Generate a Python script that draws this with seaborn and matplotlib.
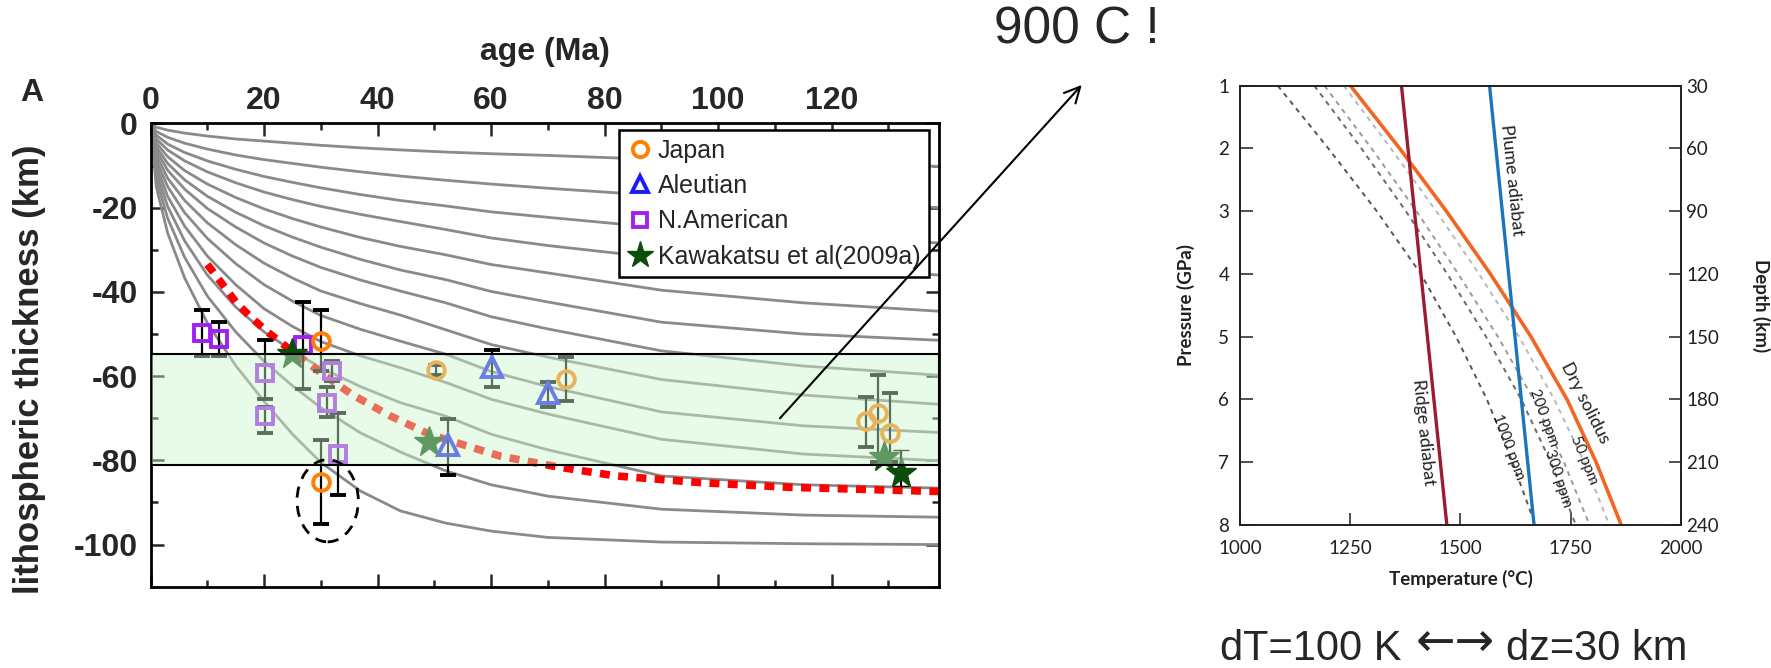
import numpy as np
import pandas as pd
import matplotlib
matplotlib.use("Agg")
import matplotlib.pyplot as plt
import seaborn as sns
from matplotlib.patches import Ellipse
from matplotlib.lines import Line2D

sns.set_theme(style="ticks")
plt.rcParams['font.family'] = ['Liberation Sans', 'DejaVu Sans']
plt.rcParams['axes.unicode_minus'] = False

# ---------------- panel A : lithospheric thickness vs age ----------------
curve_ages = [0, 1, 3, 6, 10, 15, 20, 25, 30, 37, 44, 52, 60, 70, 90, 115, 139]
curve_depths = [
    [0, -0.9, -1.6, -2.3, -3.0, -3.7, -4.2, -4.7, -5.2, -5.8, -6.3, -6.8, -7.2, -7.6, -8.6, -9.5, -10.2],
    [0, -1.9, -3.3, -4.7, -6.1, -7.5, -8.6, -9.5, -10.4, -11.5, -12.5, -13.5, -14.4, -15.4, -17.2, -18.8, -20.0],
    [0, -2.8, -4.9, -6.9, -8.9, -10.9, -12.6, -14.0, -15.3, -16.9, -18.3, -19.6, -21.0, -22.3, -24.8, -26.9, -28.4],
    [0, -3.7, -6.3, -8.9, -11.5, -14.1, -16.3, -18.1, -19.7, -21.6, -23.3, -25.2, -27.2, -29.0, -32.0, -34.4, -36.0],
    [0, -4.6, -7.9, -11.2, -14.4, -17.6, -20.3, -22.6, -24.6, -27.1, -29.2, -31.2, -33.5, -35.5, -39.6, -42.6, -44.6],
    [0, -5.5, -9.5, -13.4, -17.3, -21.1, -24.3, -27.0, -29.4, -32.3, -34.8, -37.1, -39.9, -42.4, -47.2, -50.0, -51.5],
    [0, -6.4, -11.1, -15.6, -20.2, -24.6, -28.4, -31.5, -34.2, -37.2, -39.8, -42.6, -45.9, -48.8, -54.0, -57.6, -59.8],
    [0, -7.5, -13.0, -18.3, -23.6, -28.8, -33.2, -36.7, -39.8, -42.8, -45.5, -49.0, -52.5, -55.5, -60.8, -64.5, -66.7],
    [0, -8.7, -15.0, -21.2, -27.3, -33.3, -38.3, -42.2, -45.6, -48.9, -51.7, -54.8, -58.9, -62.5, -68.5, -71.8, -73.4],
    [0, -10.0, -17.3, -24.4, -31.5, -38.3, -44.0, -48.2, -51.8, -55.2, -58.0, -61.5, -65.5, -69.0, -75.0, -78.5, -80.1],
    [0, -11.4, -19.7, -27.9, -36.0, -43.6, -49.5, -54.0, -58.0, -62.5, -66.3, -69.5, -73.8, -77.5, -83.7, -85.8, -86.6],
    [0, -13.0, -22.5, -31.8, -41.0, -49.5, -56.5, -62.3, -67.5, -73.5, -78.0, -82.5, -85.8, -88.5, -91.6, -93.0, -93.5],
    [0, -15.0, -26.0, -36.7, -47.4, -57.5, -66.0, -73.8, -80.5, -87.3, -92.0, -94.9, -96.8, -98.3, -99.4, -99.8, -100.0],
]

red_age = [10, 12.5, 15, 17.5, 20.5, 23.5, 29.3, 35.5, 42.3, 49.3, 61.6, 71.9, 82, 97, 112.6, 139]
red_depth = [-33.5, -37.9, -42.4, -45.8, -49.4, -52.6, -58.5, -64.4, -69.5, -73.9,
             -79.0, -81.6, -83.7, -85.3, -86.4, -87.4]

japan_age = [30.1, 30.1, 50.2, 73.2, 126.0, 128.1, 130.3]
japan_depth = [-51.7, -85.2, -58.6, -60.6, -70.6, -68.8, -73.5]
japan_top = [-44.4, -75.1, -57.4, -55.4, -65.0, -59.8, -63.9]
japan_bot = [-58.8, -95.1, -59.8, -66.0, -76.8, -80.5, -80.5]

aleut_age = [60.2, 70.1, 52.4]
aleut_depth = [-57.8, -64.1, -76.3]
aleut_top = [-53.9, -61.5, -70.1]
aleut_bot = [-62.5, -67.3, -83.4]

namer_age = [9.0, 12.1, 20.1, 20.1, 26.9, 31.9, 31.1, 33.1]
namer_depth = [-49.7, -51.1, -59.3, -69.4, -52.5, -58.9, -66.3, -78.4]
namer_top = [-44.4, -47.2, -51.4, -67.3, -42.5, -56.3, -62.7, -68.7]
namer_bot = [-55.2, -55.2, -65.5, -73.6, -63.0, -61.2, -69.7, -88.2]

kawa_age = [24.9, 49.0, 129.2, 132.2]
kawa_depth = [-54.8, -75.6, -79.3, -82.9]
kawa_top = [-54.8, -75.6, -79.3, -77.5]
kawa_bot = [-54.8, -75.6, -79.3, -86.0]

band_top, band_bot = -54.7, -81.1

# ---------------- panel B : solidus / adiabats ----------------
pressure = [1, 2, 3, 4, 5, 6, 7, 8]
dry_solidus = [1250, 1362, 1468, 1568, 1660, 1742, 1808, 1865]
ppm50 = [1235, 1342, 1445, 1542, 1633, 1713, 1781, 1838]
ppm200 = [1191, 1298, 1400, 1495, 1585, 1666, 1735, 1793]
ppm300 = [1168, 1275, 1376, 1470, 1558, 1638, 1705, 1762]
ppm1000 = [1085, 1200, 1310, 1410, 1490, 1560, 1618, 1670]
adiabat_p = [1, 8]
ridge_t = [1366, 1469]
plume_t = [1566, 1667]

fig = plt.figure(figsize=(17.71, 6.68), dpi=100)

# ================= left panel =================
ax = fig.add_axes([0.08503, 0.12171, 0.44546, 0.69356])

rows = [(i, a, d) for i, c in enumerate(curve_depths) for a, d in zip(curve_ages, c)]
df = pd.DataFrame(rows, columns=["curve", "age", "depth"])
sns.lineplot(data=df, x="age", y="depth", units="curve", estimator=None,
             color="#8a8a8a", lw=2.0, ax=ax, zorder=1)

sns.lineplot(x=red_age, y=red_depth, color="#ff0000", lw=5.5,
             linestyle=(0, (1.3, 1.1)), ax=ax, zorder=2)


def err(depth, top, bot):
    d = np.array(depth)
    return [d - np.array(bot), np.array(top) - d]


ebkw = dict(ecolor="black", elinewidth=1.6, capsize=5.5, capthick=1.8, ls="none")
ax.errorbar(namer_age, namer_depth, yerr=err(namer_depth, namer_top, namer_bot),
            marker="s", ms=11.5, mfc="none", mec="#a020f0", mew=2.8, zorder=3, **ebkw)
ax.errorbar(japan_age, japan_depth, yerr=err(japan_depth, japan_top, japan_bot),
            marker="o", ms=12, mfc="none", mec="#ff8000", mew=2.8, zorder=3, **ebkw)
ax.errorbar(aleut_age, aleut_depth, yerr=err(aleut_depth, aleut_top, aleut_bot),
            marker="^", ms=14, mfc="none", mec="#1a1aff", mew=2.8, zorder=3, **ebkw)
ax.errorbar(kawa_age, kawa_depth, yerr=err(kawa_depth, kawa_top, kawa_bot),
            marker="*", ms=23, mfc="#0b4d0b", mec="#0b4d0b", mew=1, zorder=3, **ebkw)

# translucent green band drawn on top
ax.axhspan(band_bot, band_top, facecolor=(0.80, 0.96, 0.80, 0.45),
           edgecolor="black", lw=1.5, zorder=5)

ax.add_patch(Ellipse((31.2, -89.6), 10.8, 19.5, fill=False, ec="black", lw=2,
                     ls=(0, (4, 3)), zorder=6))

ax.set_xlim(0, 139)
ax.set_ylim(-110, 0)
ax.set_xticks(range(0, 121, 20))
ax.set_xticks(range(0, 140, 10), minor=True)
ax.set_yticks(range(-100, 1, 20))
ax.set_yticks(range(-110, 1, 10), minor=True)
ax.tick_params(axis="both", which="both", direction="in", width=1.8,
               top=True, bottom=True, left=True, right=True,
               labeltop=True, labelbottom=False, labelsize=23)
ax.tick_params(which="major", length=9.5)
ax.tick_params(which="minor", length=5)
ax.tick_params(axis="x", pad=5)
ax.tick_params(axis="y", pad=9)
for lab in ax.get_xticklabels() + ax.get_yticklabels():
    lab.set_fontweight("bold")
for sp in ax.spines.values():
    sp.set_linewidth(2)
    sp.set_color("black")

ax.xaxis.set_label_position("top")
ax.set_xlabel("age (Ma)", fontsize=23, fontweight="bold")
ax.xaxis.set_label_coords(0.5, 1.136)
ax.set_ylabel("lithospheric thickness (km)", fontsize=25, fontweight="bold")
ax.yaxis.set_label_coords(-0.133, 0.47)

handles = [
    Line2D([], [], ls="none", marker="o", ms=11, mfc="white", mec="#ff8000", mew=2.8, label="Japan"),
    Line2D([], [], ls="none", marker="^", ms=12, mfc="white", mec="#1a1aff", mew=2.8, label="Aleutian"),
    Line2D([], [], ls="none", marker="s", ms=10, mfc="white", mec="#a020f0", mew=2.8, label="N.American"),
    Line2D([], [], ls="none", marker="*", ms=20, mfc="#0b4d0b", mec="#0b4d0b", label="Kawakatsu et al(2009a)"),
]
leg = ax.legend(handles=handles, loc="upper right", bbox_to_anchor=(0.987, 0.9857),
                fontsize=18, frameon=True, fancybox=False, edgecolor="black",
                framealpha=1, borderpad=0.35, handlelength=1.0, handletextpad=0.2,
                labelspacing=0.45, borderaxespad=0)
leg.get_frame().set_linewidth(1.8)
leg.set_zorder(20)

fig.text(0.018, 0.861, "A", fontsize=23, fontweight="bold", ha="center", va="center")

# ================= right panel =================
ax2 = fig.add_axes([0.70034, 0.21407, 0.24867, 0.65763])
ink = "#231f20"
dash = (0, (2.5, 2.5))
sns.lineplot(x=ppm1000, y=pressure, color="#555555", lw=1.4, linestyle=dash, ax=ax2, sort=False)
sns.lineplot(x=ppm300, y=pressure, color="#6a6a6a", lw=1.4, linestyle=dash, ax=ax2, sort=False)
sns.lineplot(x=ppm200, y=pressure, color="#999999", lw=1.4, linestyle=dash, ax=ax2, sort=False)
sns.lineplot(x=ppm50, y=pressure, color="#b8b8b8", lw=1.4, linestyle=dash, ax=ax2, sort=False)
sns.lineplot(x=dry_solidus, y=pressure, color="#f26522", lw=2.6, ax=ax2, sort=False)
sns.lineplot(x=ridge_t, y=adiabat_p, color="#9b1b30", lw=2.4, ax=ax2, sort=False)
sns.lineplot(x=plume_t, y=adiabat_p, color="#1b75bc", lw=2.4, ax=ax2, sort=False)

ax2.set_xlim(1000, 2000)
ax2.set_ylim(8, 1)
ax2.set_xticks([1000, 1250, 1500, 1750, 2000])
ax2.set_yticks(pressure)
ax2.tick_params(direction="in", length=9, width=1.1, top=False, right=False,
                labelsize=13.5, colors=ink)
ax2.tick_params(axis="y", pad=8)
ax2.tick_params(axis="x", pad=11)
for lab in ax2.get_xticklabels() + ax2.get_yticklabels():
    lab.set_family("Lato")
for sp in ax2.spines.values():
    sp.set_linewidth(1.2)
    sp.set_color(ink)
ax2.set_xlabel("Temperature (\u00b0C)", fontsize=13.5, fontweight="bold", family="Lato", color=ink)
ax2.xaxis.set_label_coords(0.5, -0.102)
ax2.set_ylabel("Pressure (GPa)", fontsize=13.5, fontweight="bold", family="Lato", color=ink)
ax2.yaxis.set_label_coords(-0.104, 0.5)

ax3 = ax2.twinx()
ax3.set_ylim(240, 30)
ax3.set_yticks(range(30, 241, 30))
ax3.tick_params(direction="in", length=9, width=1.1, labelsize=13.5, pad=4, colors=ink)
for lab in ax3.get_yticklabels():
    lab.set_family("Lato")
for sp in ax3.spines.values():
    sp.set_linewidth(1.2)
    sp.set_color(ink)
ax3.set_ylabel("Depth (km)", fontsize=13.5, fontweight="bold", family="Lato",
               rotation=270, va="bottom", color=ink)
ax3.yaxis.set_label_coords(1.162, 0.5)

lab_kw = dict(family="Lato", color=ink, ha="center", va="center", rotation_mode="anchor")
ax2.text(1617, 2.50, "Plume adiabat", fontsize=13, rotation=-84, **lab_kw)
ax2.text(1415, 6.53, "Ridge adiabat", fontsize=13, rotation=-84, **lab_kw)
ax2.text(1784, 6.06, "Dry solidus", fontsize=13, rotation=-63, **lab_kw)
ax2.text(1609, 6.75, "1000 ppm", fontsize=11, rotation=-70, **lab_kw)
ax2.text(1690, 6.30, "200 ppm", fontsize=11, rotation=-70, **lab_kw)
ax2.text(1721, 7.26, "300 ppm", fontsize=11, rotation=-72, **lab_kw)
ax2.text(1780, 6.96, "50 ppm", fontsize=11, rotation=-68, **lab_kw)

# ================= annotations =================
fig.text(0.608, 0.955, "900 C !", fontsize=37, ha="center", va="center")
ax.annotate("", xy=(0.6108, 0.8728), xycoords="figure fraction",
            xytext=(0.4404, 0.3738), textcoords="figure fraction",
            arrowprops=dict(arrowstyle="->", lw=1.5, color="black",
                            mutation_scale=28, shrinkA=0, shrinkB=0),
            annotation_clip=False, zorder=30)
fig.text(1401 / 1771, 0.012, "dT=100 K", fontsize=30, ha="right", va="baseline")
fig.text(1455 / 1771, 0.018, "\u2190\u2192", fontsize=34, ha="center", va="baseline",
         family=["DejaVu Sans"])
fig.text(1506 / 1771, 0.012, "dz=30 km", fontsize=30, ha="left", va="baseline")

fig.savefig("out.png", dpi=100)
